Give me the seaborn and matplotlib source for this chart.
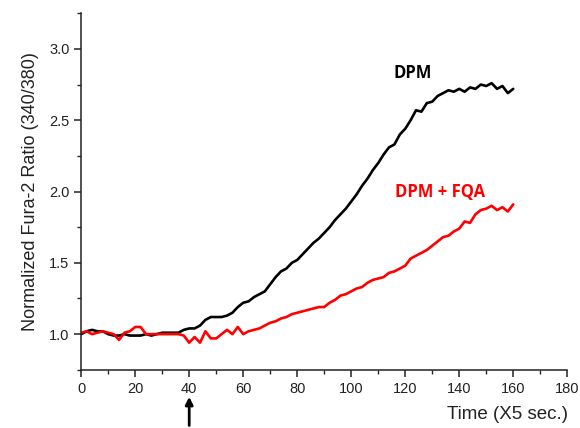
import numpy as np
import pandas as pd
import matplotlib
matplotlib.use("Agg")
import matplotlib.pyplot as plt
from matplotlib.ticker import MultipleLocator
import seaborn as sns

# time points (x5 sec)
time = list(range(0, 161, 2))

dpm = [1.00, 1.02, 1.03, 1.02, 1.02, 1.00, 0.99, 0.99, 1.00, 0.99,
       0.99, 0.99, 1.00, 0.99, 1.00, 1.01, 1.01, 1.01, 1.01, 1.03,
       1.04, 1.04, 1.06, 1.10, 1.12, 1.12, 1.12, 1.13, 1.15, 1.19,
       1.22, 1.23, 1.26, 1.28, 1.30, 1.35, 1.40, 1.44, 1.46, 1.50,
       1.52, 1.56, 1.60, 1.64, 1.67, 1.71, 1.75, 1.80, 1.84, 1.88,
       1.93, 1.98, 2.04, 2.09, 2.15, 2.20, 2.26, 2.31, 2.33, 2.40,
       2.44, 2.50, 2.57, 2.56, 2.62, 2.63, 2.67, 2.69, 2.71, 2.70,
       2.72, 2.70, 2.73, 2.72, 2.75, 2.74, 2.76, 2.72, 2.74, 2.69,
       2.72]

dpm_fqa = [1.01, 1.02, 1.00, 1.01, 1.02, 1.01, 1.00, 0.96, 1.01, 1.02,
           1.05, 1.05, 1.00, 1.00, 1.00, 1.00, 1.00, 1.00, 1.00, 0.99,
           0.94, 0.98, 0.94, 1.02, 0.97, 0.97, 1.00, 1.03, 1.00, 1.05,
           1.00, 1.02, 1.03, 1.04, 1.06, 1.08, 1.09, 1.11, 1.12, 1.14,
           1.15, 1.16, 1.17, 1.18, 1.19, 1.19, 1.22, 1.24, 1.27, 1.28,
           1.30, 1.32, 1.33, 1.36, 1.38, 1.39, 1.40, 1.43, 1.44, 1.46,
           1.48, 1.53, 1.55, 1.57, 1.59, 1.62, 1.65, 1.68, 1.69, 1.72,
           1.74, 1.79, 1.78, 1.84, 1.87, 1.88, 1.90, 1.87, 1.89, 1.86,
           1.91]

df = pd.DataFrame({
    'Time': time * 2,
    'Ratio': dpm + dpm_fqa,
    'Group': ['DPM'] * len(time) + ['DPM + FQA'] * len(time),
})

sns.set_style("ticks")
plt.rcParams['font.family'] = ['Liberation Sans', 'DejaVu Sans']

fig = plt.figure(figsize=(5.8, 4.28), dpi=100)
ax = fig.add_axes([0.14, 0.136, 0.838, 0.833])

sns.lineplot(data=df, x='Time', y='Ratio', hue='Group',
             palette={'DPM': 'black', 'DPM + FQA': '#ff0000'},
             linewidth=1.9, legend=False, ax=ax)

ax.set_xlim(0, 180)
ax.set_ylim(0.75, 3.25)
ax.xaxis.set_major_locator(MultipleLocator(20))
ax.xaxis.set_minor_locator(MultipleLocator(10))
ax.yaxis.set_major_locator(MultipleLocator(0.5))
ax.yaxis.set_minor_locator(MultipleLocator(0.25))
ax.yaxis.set_major_formatter(matplotlib.ticker.FormatStrFormatter('%.1f'))
ax.set_yticks([1.0, 1.5, 2.0, 2.5, 3.0])

ax.tick_params(axis='both', which='major', length=5, width=1.1,
               labelsize=10.5, colors='#222222')
ax.tick_params(axis='both', which='minor', length=3, width=1.0)
for s in ['left', 'bottom']:
    ax.spines[s].set_linewidth(1.1)
    ax.spines[s].set_color('#222222')
sns.despine(ax=ax)

ax.set_ylabel('Normalized Fura-2 Ratio (340/380)', fontsize=13,
              color='#222222', labelpad=7)
ax.set_xlabel('')
fig.text(0.98, 0.012, 'Time (X5 sec.)', fontsize=13.5, ha='right',
         va='bottom', color='#222222')

ax.text(122.8, 2.83, 'DPM', color='black', fontsize=12, fontweight='bold',
        ha='center', va='center', family=['Open Sans', 'DejaVu Sans'])
ax.text(133, 1.995, 'DPM + FQA', color='#ff0000', fontsize=12,
        fontweight='bold', ha='center', va='center',
        family=['Open Sans', 'DejaVu Sans'])

ax.annotate('', xy=(40, 0.58), xytext=(40, 0.34),
            xycoords='data', textcoords='data', annotation_clip=False,
            arrowprops=dict(arrowstyle='-|>', color='black', lw=2.0,
                            mutation_scale=11))

fig.savefig('out.png', dpi=100)
